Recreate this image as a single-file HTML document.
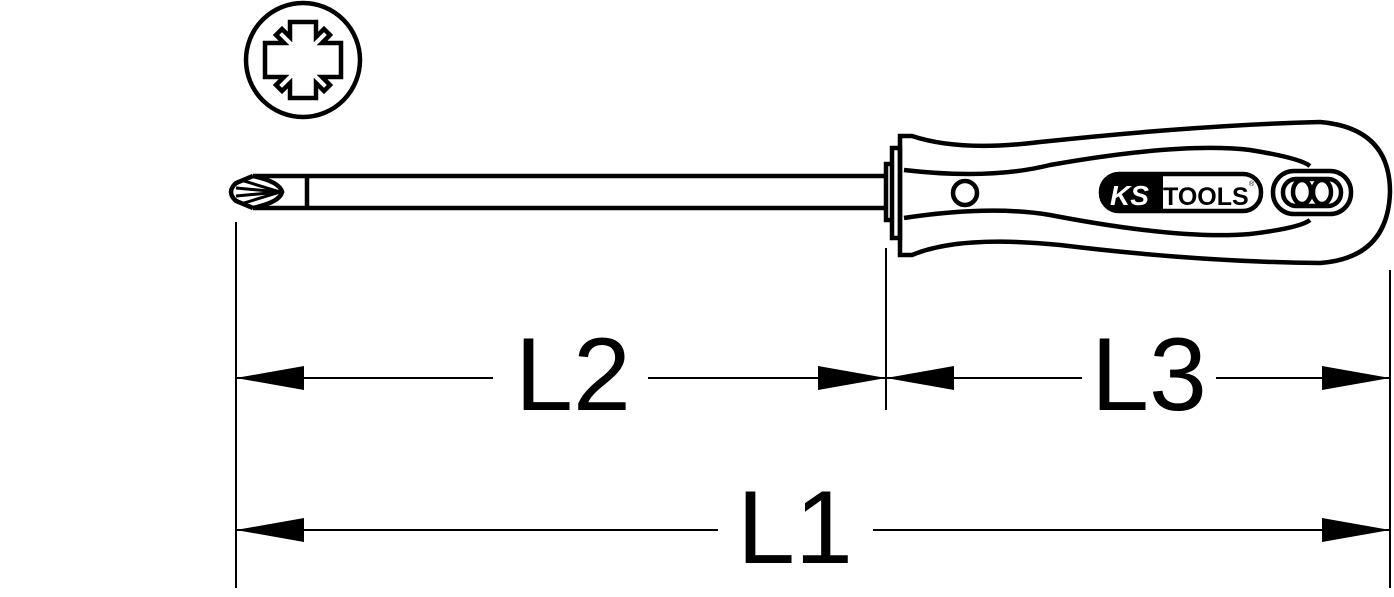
<!DOCTYPE html>
<html><head><meta charset="utf-8"><style>html,body{margin:0;padding:0;background:#fff}svg{display:block}</style></head>
<body>
<svg width="1394" height="597" viewBox="0 0 1394 597" xmlns="http://www.w3.org/2000/svg">
<g fill="none" stroke="#000" stroke-width="4.5">
<circle cx="303" cy="60" r="57"/>
<path d="M290 22 H316 V37 L324 29 L330 35 L322 43 H341 V77 H322 L330 85 L324 91 L316 83 V98 H290 V83 L282 91 L276 85 L284 77 H265 V43 H284 L276 35 L282 29 L290 37 Z"/>
<path d="M253 176 H888 M253 208 H888"/>
<path d="M253 176 L236 183 Q226 192 236 201 L253 208"/>
<path d="M253 176 Q280 182 282 192 Q280 202 253 208"/>
<path d="M236 188 L280 192 L236 196 M244 181 L280 192 L244 203" stroke-width="3"/>
<line x1="307" y1="176" x2="307" y2="208"/>
<path d="M886 164 H892 V220 H886 Z M892 148 H900 V238 H892 Z"/>
<path d="M900 136 L912 136 Q960 152 1040 142 Q1200 125 1320 122 Q1390 128 1390 192 Q1388 258 1320 263 Q1200 262 1060 245 Q960 235 912 255 L900 255 Z"/>
<path d="M904 170 Q990 180 1050 165 Q1180 142 1250 150 Q1300 158 1310 166"/>
<path d="M904 218 Q990 205 1050 215 Q1180 240 1250 234 Q1300 228 1310 220"/>
<circle cx="965" cy="193" r="12"/>
<rect x="1101" y="174" width="160" height="37" rx="18"/>
<rect x="1273" y="171" width="78" height="43" rx="21"/>
<rect x="1283" y="179" width="58" height="27" rx="13"/>
<ellipse cx="1302" cy="192" rx="9" ry="12"/>
<ellipse cx="1322" cy="192" rx="9" ry="12"/>
</g>
<path d="M1102 192 Q1102 175 1119 175 H1163 V210 H1119 Q1102 210 1102 192 Z" fill="#000"/>
<text x="1110" y="205" font-family="Liberation Sans, sans-serif" font-weight="bold" font-style="italic" font-size="28" fill="#fff">KS</text>
<text x="1163" y="205" font-family="Liberation Sans, sans-serif" font-weight="bold" font-size="25" fill="#000">TOOLS</text>
<text x="1249" y="186" font-family="Liberation Sans, sans-serif" font-size="7" fill="#000">®</text>
<g stroke="#000" stroke-width="2">
<line x1="236" y1="222" x2="236" y2="588"/>
<line x1="886" y1="248" x2="886" y2="410"/>
<line x1="1390" y1="270" x2="1390" y2="588"/>
<line x1="236" y1="378" x2="493" y2="378"/>
<line x1="648" y1="378" x2="886" y2="378"/>
<line x1="886" y1="378" x2="1082" y2="378"/>
<line x1="1216" y1="378" x2="1390" y2="378"/>
<line x1="236" y1="530" x2="718" y2="530"/>
<line x1="873" y1="530" x2="1390" y2="530"/>
</g>
<g fill="#000">
<path d="M236 378 L304 366 V390 Z"/>
<path d="M886 378 L818 366 V390 Z"/>
<path d="M886 378 L954 366 V390 Z"/>
<path d="M1390 378 L1322 366 V390 Z"/>
<path d="M236 530 L304 518 V542 Z"/>
<path d="M1390 530 L1322 518 V542 Z"/>
</g>
<g font-family="Liberation Sans, sans-serif" font-size="104" fill="#000" text-anchor="middle">
<text x="573" y="410">L2</text>
<text x="1149" y="410">L3</text>
<text x="795" y="563">L1</text>
</g>
</svg>
</body></html>
